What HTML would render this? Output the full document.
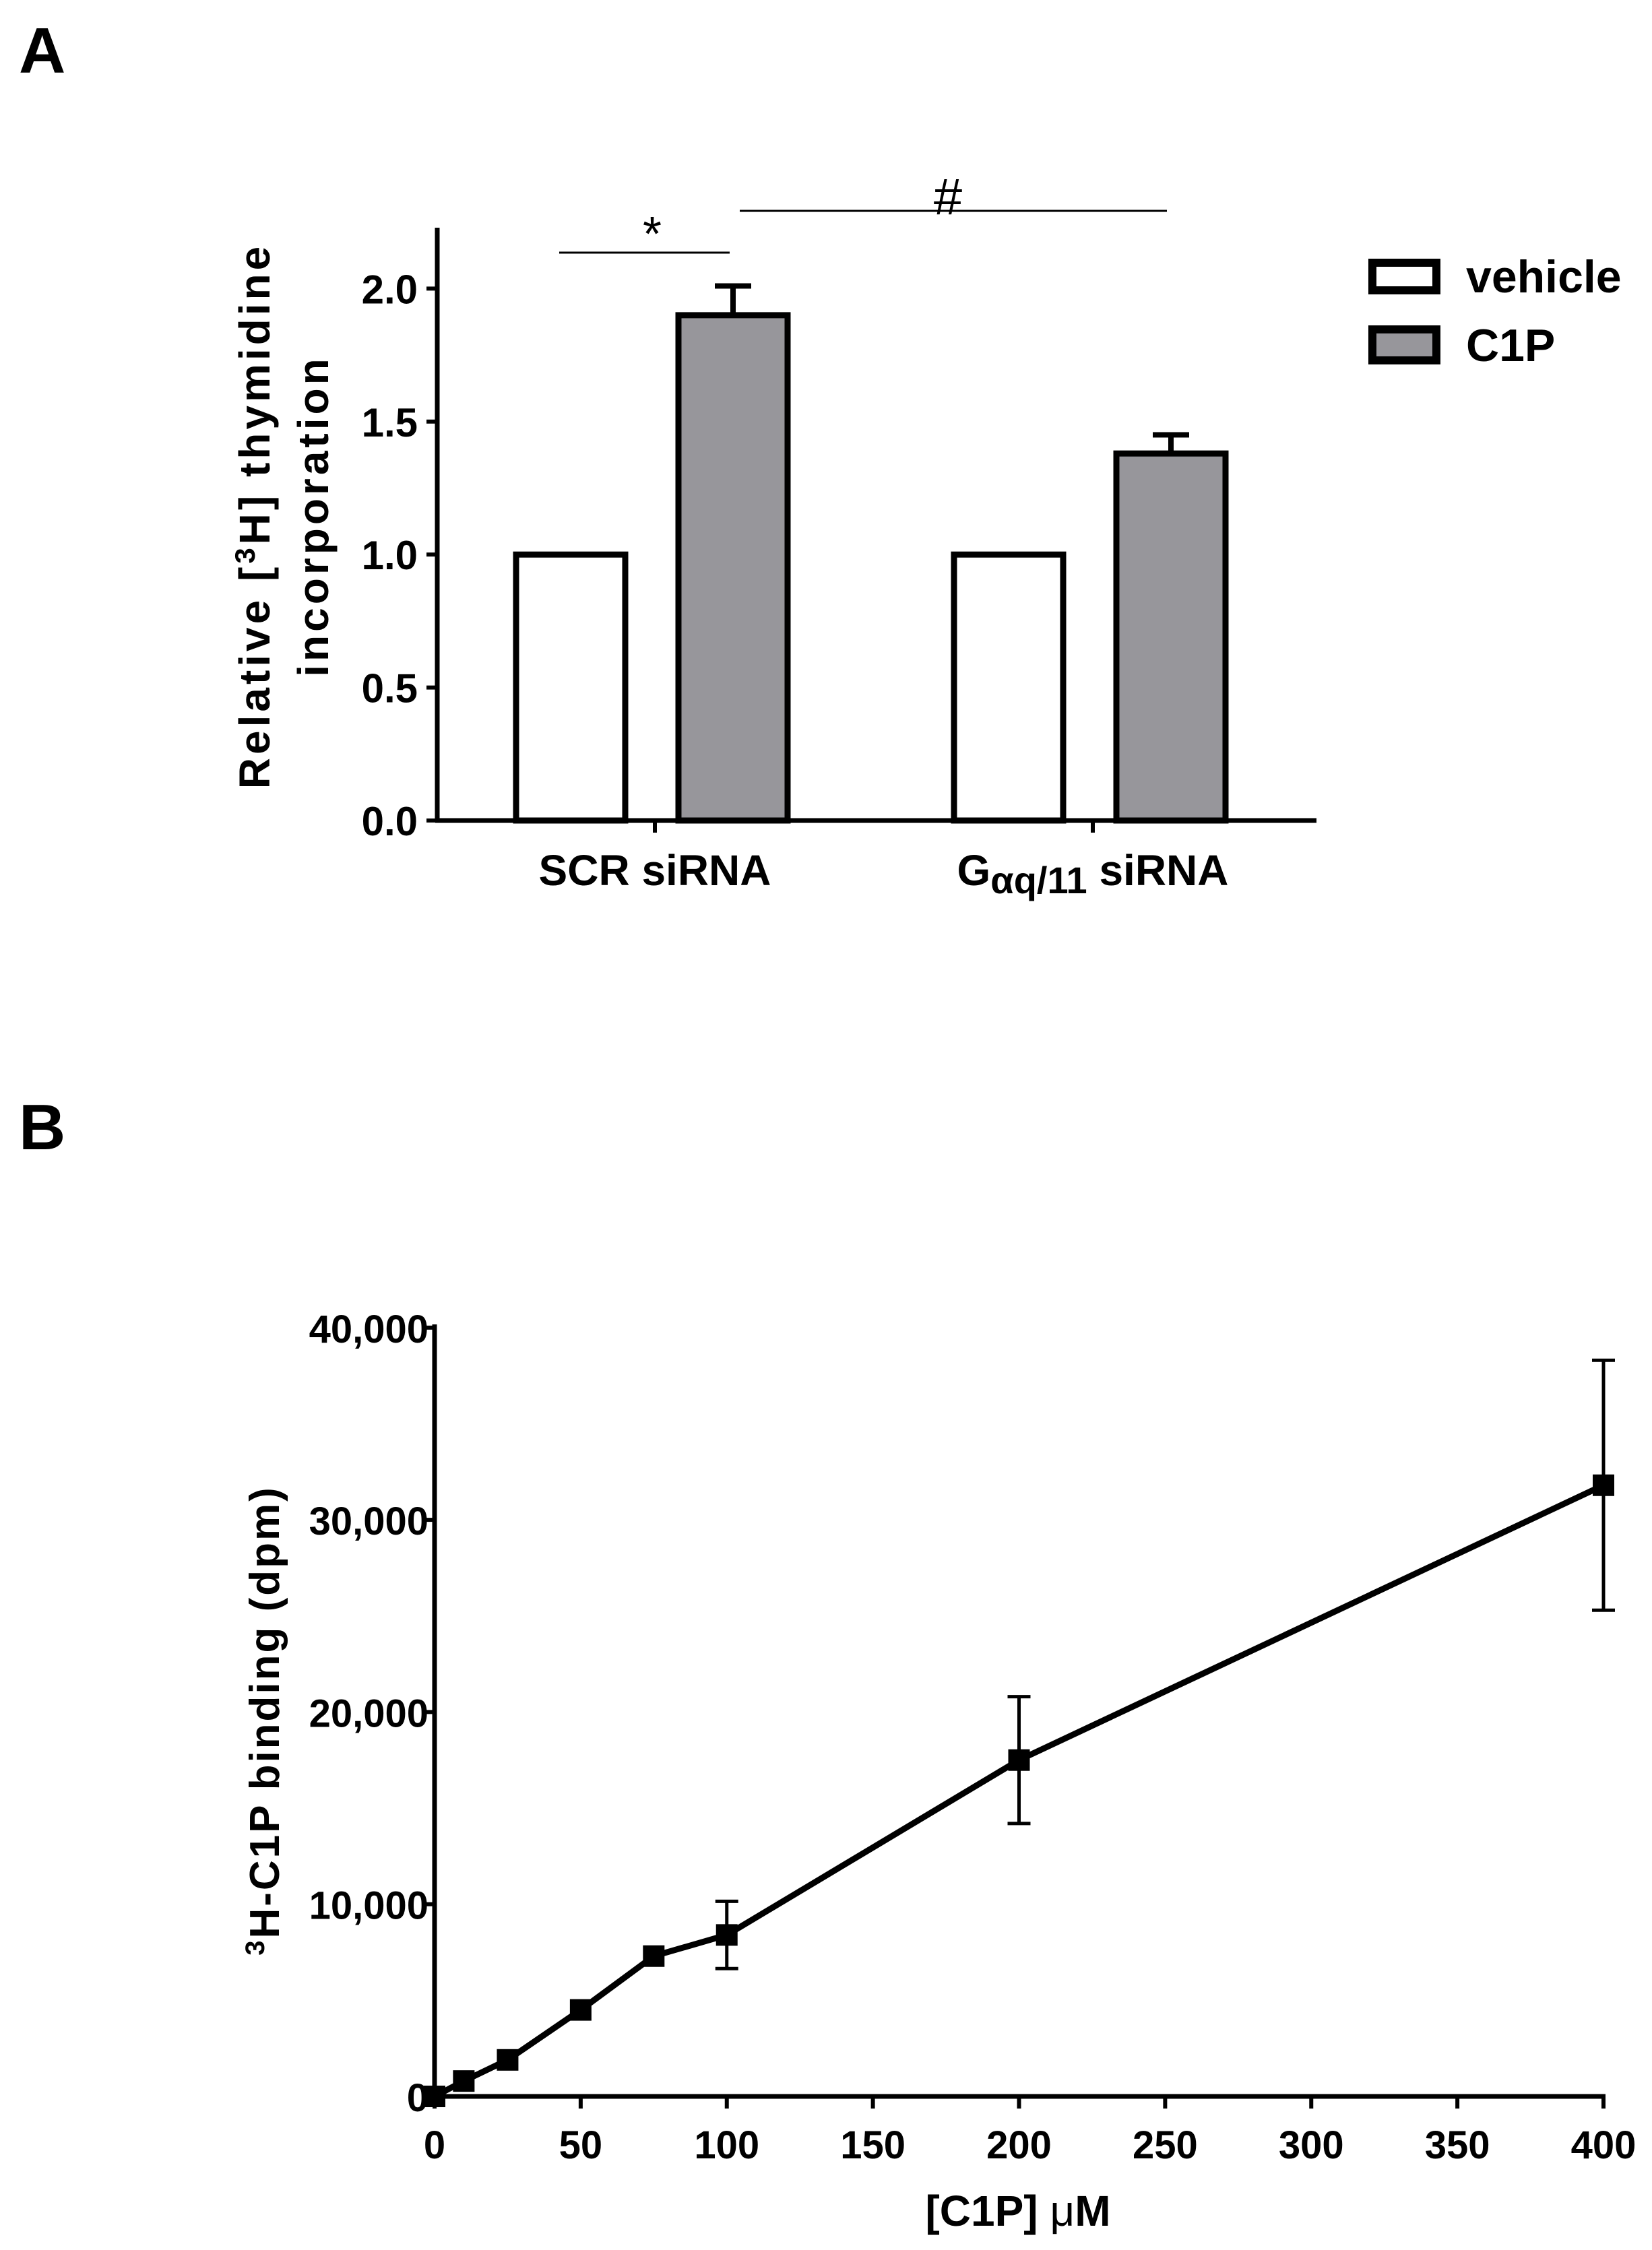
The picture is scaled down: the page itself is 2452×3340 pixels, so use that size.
<!DOCTYPE html>
<html><head><meta charset="utf-8"><style>
html,body{margin:0;padding:0;background:#fff;}
svg{display:block;font-family:"Liberation Sans",Arial,sans-serif;font-weight:bold;}
</style></head><body>
<svg id="fig" width="2452" height="3340" viewBox="0 0 2452 3340" xmlns="http://www.w3.org/2000/svg">
<text x="28" y="108" font-size="96">A</text>
<text x="28" y="1706" font-size="96">B</text>
<g id="chartA"></g>
<g id="chartB"></g>
</svg>
<script>
const NS='http://www.w3.org/2000/svg';
// ---- Panel A data ----
const groups=['SCR siRNA','Gαq/11 siRNA'];
const vehicleVals=[1.0,1.0];
const c1pVals=[1.90,1.38];
const c1pErr=[0.11,0.07];
const yTicksA=[0.0,0.5,1.0,1.5,2.0];
const yTickLabelsA=['0.0','0.5','1.0','1.5','2.0'];
// ---- Panel B data ----
const concs=[0,10,25,50,75,100,200,400];
const binding=[0,800,1900,4500,7300,8400,17500,31800];
const bindingErr=[0,0,0,0,0,1750,3300,6500];
const xTicksB=[0,50,100,150,200,250,300,350,400];
const yTicksB=[0,10000,20000,30000,40000];
const yTickLabelsB=['0','10,000','20,000','30,000','40,000'];

function mk(parent,tag,attrs,text){const e=document.createElementNS(NS,tag);for(const k in attrs)e.setAttribute(k,attrs[k]);if(text!==undefined)e.textContent=text;parent.appendChild(e);return e;}

// Panel A
const A=document.getElementById('chartA');
const yA=v=>1218-v*394.8;
const axL=649, axR=1954;
let e;
e=mk(A,'line',{x1:axL,y1:338,x2:axL,y2:1221,stroke:'#000','stroke-width':7});

e=mk(A,'line',{x1:axL-3,y1:1218,x2:axR,y2:1218,stroke:'#000','stroke-width':7});

yTicksA.forEach((t,i)=>{
  e=mk(A,'line',{x1:axL-16,y1:yA(t),x2:axL,y2:yA(t),stroke:'#000','stroke-width':6});
  
  e=mk(A,'text',{x:620,y:yA(t)+22,'font-size':60,'text-anchor':'end'},yTickLabelsA[i]);
  
});
const groupCenters=[972,1622];
const barW=162;
groups.forEach((g,i)=>{
  const c=groupCenters[i];
  const vx=c-206, cx=c+35;
  e=mk(A,'rect',{x:vx,y:yA(vehicleVals[i]),width:barW,height:1218-yA(vehicleVals[i]),fill:'#fff',stroke:'#000','stroke-width':9});
  
  const top=yA(c1pVals[i]+c1pErr[i]);
  e=mk(A,'line',{x1:cx+barW/2,y1:top,x2:cx+barW/2,y2:yA(c1pVals[i]),stroke:'#000','stroke-width':8});
  
  e=mk(A,'line',{x1:cx+barW/2-27,y1:top,x2:cx+barW/2+27,y2:top,stroke:'#000','stroke-width':8});
  
  e=mk(A,'rect',{x:cx,y:yA(c1pVals[i]),width:barW,height:1218-yA(c1pVals[i]),fill:'#97969b',stroke:'#000','stroke-width':9});
  
  e=mk(A,'line',{x1:c,y1:1218,x2:c,y2:1236,stroke:'#000','stroke-width':6});
  
});
e=mk(A,'text',{x:972,y:1314,'font-size':64,'text-anchor':'middle'},'SCR siRNA');

e=mk(A,'text',{x:1622,y:1314,'font-size':64,'text-anchor':'middle'});

e.innerHTML='G<tspan font-size="56" dy="12">αq/11</tspan><tspan dy="-12"> siRNA</tspan>';
// significance
e=mk(A,'line',{x1:830,y1:375,x2:1083,y2:375,stroke:'#000','stroke-width':3});

e=mk(A,'text',{x:968,y:372,'font-size':72,'text-anchor':'middle','font-weight':'normal'},'*');

e=mk(A,'line',{x1:1098,y1:313,x2:1732,y2:313,stroke:'#000','stroke-width':3});

e=mk(A,'text',{x:1407,y:318,'font-size':76,'text-anchor':'middle','font-weight':'normal'},'#');

// y title
e=mk(A,'text',{transform:'translate(400,766) rotate(-90)','font-size':64,'letter-spacing':5,'text-anchor':'middle'});

e.innerHTML='Relative [<tspan font-size="42" dy="-22">3</tspan><tspan dy="22">H] thymidine</tspan>';
e=mk(A,'text',{transform:'translate(487,766) rotate(-90)','font-size':64,'letter-spacing':5,'text-anchor':'middle'},'incorporation');

// legend
e=mk(A,'rect',{x:2037,y:390,width:95,height:41,fill:'#fff',stroke:'#000','stroke-width':12});

e=mk(A,'text',{x:2176,y:434,'font-size':68},'vehicle');

e=mk(A,'rect',{x:2037,y:489,width:95,height:46,fill:'#97969b',stroke:'#000','stroke-width':12});

e=mk(A,'text',{x:2176,y:536,'font-size':68},'C1P');


// Panel B
const B=document.getElementById('chartB');
const xB=v=>645+v*4.3375;
const yB=v=>3112-v*0.02853;
e=mk(B,'line',{x1:645,y1:1966,x2:645,y2:3115,stroke:'#000','stroke-width':7});

e=mk(B,'line',{x1:642,y1:3112,x2:2383,y2:3112,stroke:'#000','stroke-width':7});

yTicksB.forEach((t,i)=>{
  e=mk(B,'line',{x1:629,y1:yB(t),x2:645,y2:yB(t),stroke:'#000','stroke-width':6});
  
  e=mk(B,'text',{x:636,y:yB(t)+22,'font-size':58,'text-anchor':'end'},yTickLabelsB[i]);
  
});
xTicksB.forEach(t=>{
  e=mk(B,'line',{x1:xB(t),y1:3112,x2:xB(t),y2:3130,stroke:'#000','stroke-width':6});
  
  e=mk(B,'text',{x:xB(t),y:3204,'font-size':58,'text-anchor':'middle'},String(t));
  
});
e=mk(B,'polyline',{points:concs.map((c,i)=>xB(c)+','+yB(binding[i])).join(' '),fill:'none',stroke:'#000','stroke-width':9,'stroke-linejoin':'round'});

concs.forEach((c,i)=>{
  if(bindingErr[i]>0){
    const x=xB(c),y1=yB(binding[i]+bindingErr[i]),y2=yB(binding[i]-bindingErr[i]);
    e=mk(B,'line',{x1:x,y1:y1,x2:x,y2:y2,stroke:'#000','stroke-width':5});
    
    e=mk(B,'line',{x1:x-17,y1:y1,x2:x+17,y2:y1,stroke:'#000','stroke-width':5});
    
    e=mk(B,'line',{x1:x-17,y1:y2,x2:x+17,y2:y2,stroke:'#000','stroke-width':5});
    
  }
  e=mk(B,'rect',{x:xB(c)-16,y:yB(binding[i])-16,width:32,height:32,fill:'#000'});
  
});
e=mk(B,'text',{x:1511,y:3304,'font-size':64,'text-anchor':'middle'});

e.innerHTML='[C1P] <tspan font-weight="normal">μ</tspan>M';
e=mk(B,'text',{transform:'translate(414,2554) rotate(-90)','font-size':62,'letter-spacing':3,'text-anchor':'middle'});

e.innerHTML='<tspan font-size="40" dy="-22">3</tspan><tspan dy="22">H-C1P binding (dpm)</tspan>';
</script>
</body></html>
